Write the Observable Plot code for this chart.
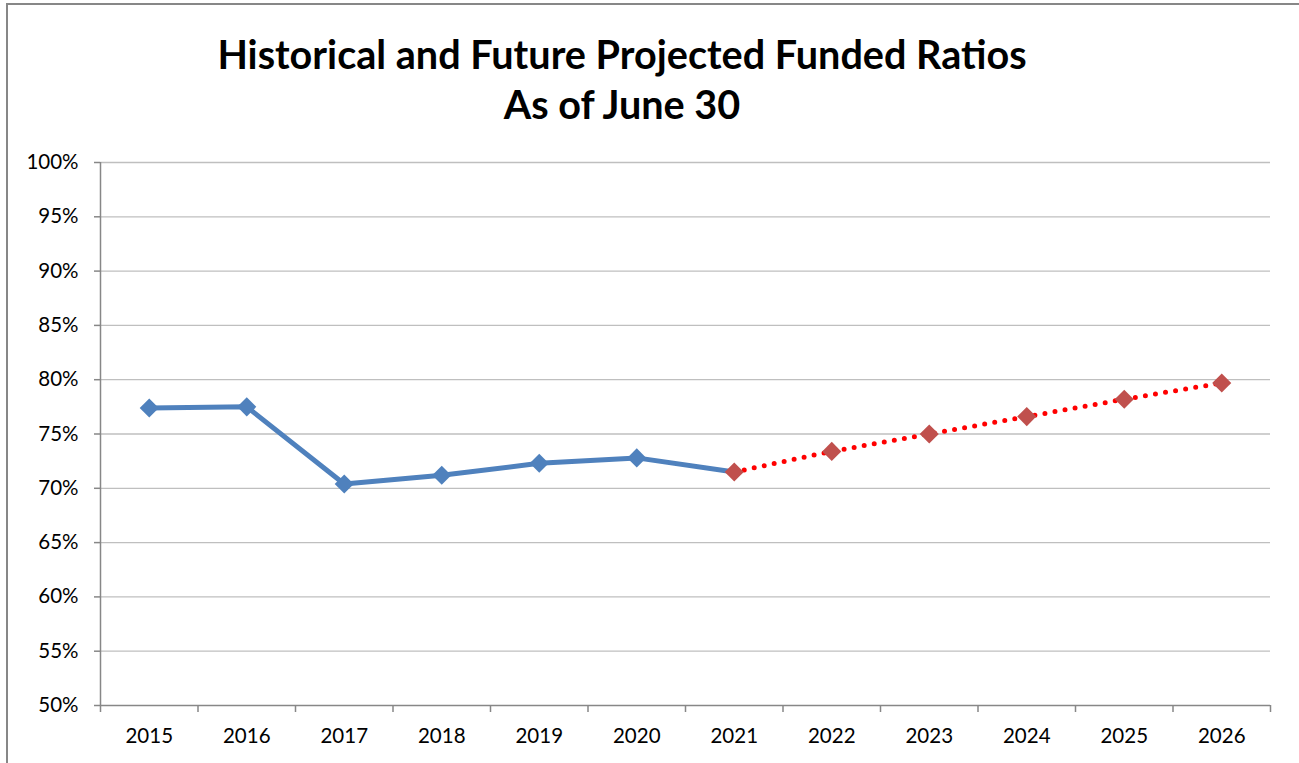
<!DOCTYPE html>
<html>
<head>
<meta charset="utf-8">
<script src="https://cdn.jsdelivr.net/npm/d3@7"></script>
<script src="https://cdn.jsdelivr.net/npm/@observablehq/plot@0.6"></script>
<style>
  html, body { margin: 0; padding: 0; background: #fff; overflow: hidden; width: 1299px; height: 763px; }
  #frame { position: absolute; left: 6px; top: 3px; width: 1400px; height: 900px; border: 2px solid #878787; box-sizing: border-box; }
  #title { position: absolute; left: 0; top: 0; width: 1299px; height: 140px; text-align: center;
           font-family: Lato, "Open Sans", sans-serif; font-weight: 700; font-size: 39.6px; line-height: 50px; color: #000; }
  #title .inner { position: absolute; left: 0; width: 1244px; top: 29px; }
  #chart { position: absolute; left: 0; top: 140px; }
</style>
</head>
<body>
<div id="frame"></div>
<div id="title"><div class="inner">Historical and Future Projected Funded Ratios<br>As of June 30</div></div>
<div id="chart"></div>
<script>
const histYears = [2015, 2016, 2017, 2018, 2019, 2020, 2021];
const histValues = [77.4, 77.5, 70.4, 71.2, 72.3, 72.8, 71.5];
const projYears = [2021, 2022, 2023, 2024, 2025, 2026];
const projValues = [71.5, 73.4, 75.0, 76.6, 78.2, 79.7];
const yearTicks = [2015, 2016, 2017, 2018, 2019, 2020, 2021, 2022, 2023, 2024, 2025, 2026];
const yTicks = [50, 55, 60, 65, 70, 75, 80, 85, 90, 95, 100];

const hist = histYears.map((y, i) => ({year: y, value: histValues[i]}));
const proj = projYears.map((y, i) => ({year: y, value: projValues[i]}));
const histMarkers = hist.filter(d => d.year !== 2021);
const boundaries = [...yearTicks.map(y => y - 0.5), yearTicks[yearTicks.length - 1] + 0.5];

const font = "Lato, 'Open Sans', sans-serif";
const plot = Plot.plot({
  width: 1299,
  height: 623,
  marginTop: 22,
  marginBottom: 58,
  marginLeft: 100,
  marginRight: 29,
  style: {fontFamily: font, fontSize: "20.5px", color: "#000", background: "transparent"},
  x: {type: "linear", domain: [2014.5, 2026.5]},
  y: {type: "linear", domain: [50, 100]},
  marks: [
    Plot.gridY(yTicks.slice(1), {stroke: "#bfbfbf", strokeOpacity: 1, strokeWidth: 1.3}),
    Plot.axisY(yTicks, {tickSize: 6, tickPadding: 16, stroke: "#878787", strokeWidth: 1.5, tickFormat: d => d + "%", fill: "#000", label: null}),
    Plot.axisX(boundaries, {tickSize: 7, tickFormat: () => "", stroke: "#878787", strokeWidth: 1.5, label: null}),
    Plot.axisX(yearTicks, {tickSize: 0, tickPadding: 23, tickFormat: d => String(d), fill: "#000", label: null}),
    Plot.ruleY([50], {stroke: "#878787", strokeWidth: 1.5}),
    Plot.ruleX([2014.5], {stroke: "#878787", strokeWidth: 1.5}),
    Plot.line(hist, {x: "year", y: "value", stroke: "#4F81BD", strokeWidth: 5}),
    Plot.line(proj, {x: "year", y: "value", stroke: "#FF0000", strokeWidth: 5, strokeDasharray: "0,10.2", strokeLinecap: "round"}),
    Plot.dot(histMarkers, {x: "year", y: "value", symbol: "diamond2", r: 8.6, fill: "#4F81BD", stroke: "none"}),
    Plot.dot(proj, {x: "year", y: "value", symbol: "diamond2", r: 8.6, fill: "#C0504D", stroke: "none"})
  ]
});
document.getElementById("chart").appendChild(plot);
</script>
</body>
</html>
